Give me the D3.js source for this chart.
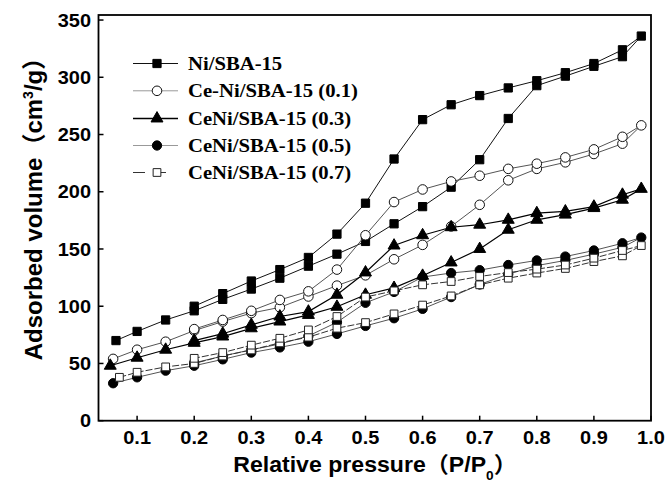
<!DOCTYPE html>
<html><head><meta charset="utf-8">
<script src="https://cdn.jsdelivr.net/npm/d3@7"></script>
<style>body{margin:0;background:#fff}svg{display:block}</style>
</head><body><svg id="c" width="666" height="488"></svg>
<script>
// ---- data ----
const seriesNames = ["Ni/SBA-15","Ce-Ni/SBA-15 (0.1)","CeNi/SBA-15 (0.3)","CeNi/SBA-15 (0.5)","CeNi/SBA-15 (0.7)"];
const startPressure = [0.063, 0.058, 0.053, 0.058, 0.069];
const pAds = [0.1,0.15,0.2,0.25,0.3,0.35,0.4,0.45,0.5,0.55,0.6,0.65,0.7,0.75,0.8,0.85,0.9,0.95,0.983];
const pDes = [0.95,0.9,0.85,0.8,0.75,0.7,0.65,0.6,0.55,0.5,0.45,0.4,0.35,0.3,0.25,0.2];

const niAds  = [70,78,88,96,106,115,124.5,135,145.5,156.6,172,187,204,228,264,292.7,301,309.6,318,336];
const niDes  = [324,312,304,297,290.7,284,276,263,228.6,190,163,142.6,132,122,111,100];
const ce1Ads = [54,62,69,78.7,86.6,94,99,108.5,118,127,141,153.6,169.7,188.6,210,220,225.7,233,242,258];
const ce1Des = [248,237,230,224.5,220,214,209,202,191,162,132,113,105.5,96,88,80];
const ce3Ads = [48,55,62,68,73.5,80.7,86.6,92.4,99.5,110,116,126.6,138.2,150,166.8,175.5,180,185.7,193,202.5];
const ce3Des = [197.4,187,182.8,181.3,175.5,171.2,169,162,153,129.5,110,95.3,91,83.7,76,70];
const ce5Ads = [32.7,37.9,43.7,48,53.6,59.5,64,69,75.8,82.8,89.5,97.7,108,119,128,135.5,140,145.5,151.5,160];
const ce5Des = [155,148.7,143.4,140,136,131.5,129,125.5,112.5,103,86,74,67,62,56.5,50.5];
const ce7Ads = [37.9,42.3,47,50,56.5,61.8,68,73,80.8,85.7,93.3,101,109,118.7,124.5,129,133,139,144,153];
const ce7Des = [148.7,142,136,132.4,129.4,126,121.6,118.7,113.4,108,91,79.3,72,66,59.5,54.5];

const xTicks = [0.1,0.2,0.3,0.4,0.5,0.6,0.7,0.8,0.9,1.0];
const yTicks = [0,50,100,150,200,250,300,350];

// ---- layout ----
const L = 98.5, R = 651, T = 15, B = 420.7;
const x = d3.scaleLinear().domain([0.0324, 1.0]).range([L, R]);
const y = d3.scaleLinear().domain([0, 354.4]).range([B, T]);
const svg = d3.select("#c");
const SX = 1.08;
const sans = "'Liberation Sans', Arial, 'Noto Sans CJK SC', sans-serif";
const serif = "'Liberation Serif', 'Times New Roman', serif";

const styles = [
  {sym: d3.symbolSquare, size: 68, fill: "#000", stroke: "#000", line: "#111", lw: 1, dash: null},
  {sym: d3.symbolCircle, size: 72, fill: "#fff", stroke: "#111", line: "#555", lw: 1, dash: null},
  {sym: d3.symbolTriangle, size: 62, fill: "#000", stroke: "#000", line: "#000", lw: 1.2, dash: null},
  {sym: d3.symbolCircle, size: 68, fill: "#000", stroke: "#000", line: "#555", lw: 1, dash: null},
  {sym: d3.symbolSquare, size: 60, fill: "#fff", stroke: "#222", line: "#333", lw: 1, dash: "7,2"}
];
const adsList = [niAds, ce1Ads, ce3Ads, ce5Ads, ce7Ads];
const desList = [niDes, ce1Des, ce3Des, ce5Des, ce7Des];

const line = d3.line().x(d => x(d[0])).y(d => y(d[1]));
seriesNames.forEach((name, i) => {
  const st = styles[i];
  const pts = [[startPressure[i], adsList[i][0]]]
    .concat(pAds.map((p, j) => [p, adsList[i][j + 1]]))
    .concat(pDes.map((p, j) => [p, desList[i][j]]));
  const g = svg.append("g");
  g.append("path").attr("d", line(pts)).attr("fill", "none")
    .attr("stroke", st.line).attr("stroke-width", st.lw)
    .attr("stroke-dasharray", st.dash);
  g.selectAll("path.m").data(pts).join("path").attr("class", "m")
    .attr("transform", d => `translate(${x(d[0])},${y(d[1])})`)
    .attr("d", d3.symbol().type(st.sym).size(st.size))
    .attr("fill", st.fill).attr("stroke", st.stroke).attr("stroke-width", 1);
});

// frame
svg.append("rect").attr("x", L).attr("y", T).attr("width", R - L).attr("height", B - T)
  .attr("fill", "none").attr("stroke", "#000").attr("stroke-width", 1.8);

// ticks (inward)
svg.selectAll("line.xt").data(xTicks).join("line").attr("class", "xt")
  .attr("x1", d => x(d)).attr("x2", d => x(d)).attr("y1", B).attr("y2", B - 5)
  .attr("stroke", "#000").attr("stroke-width", 1.5);
svg.selectAll("line.yt").data(yTicks).join("line").attr("class", "yt")
  .attr("x1", L).attr("x2", L + 5).attr("y1", d => y(d)).attr("y2", d => y(d))
  .attr("stroke", "#000").attr("stroke-width", 1.5);

// tick labels
svg.selectAll("text.xl").data(xTicks).join("text").attr("class", "xl")
  .attr("transform", d => `translate(${x(d)},444) scale(${SX},1)`)
  .attr("text-anchor", "middle").attr("font-family", sans).attr("font-weight", "bold")
  .attr("font-size", 18.5).text(d => d.toFixed(1));
svg.selectAll("text.yl").data(yTicks).join("text").attr("class", "yl")
  .attr("transform", d => `translate(91,${y(d) + 6.6}) scale(${SX},1)`)
  .attr("text-anchor", "end").attr("font-family", sans).attr("font-weight", "bold")
  .attr("font-size", 18.5).text(d => d);

// axis titles
const xt = svg.append("text").attr("transform", `translate(375,472) scale(1.05,1)`)
  .attr("text-anchor", "middle").attr("font-family", sans).attr("font-weight", "bold")
  .attr("font-size", 22);
xt.append("tspan").text("Relative pressure（P/P");
xt.append("tspan").attr("font-size", 13).attr("dy", 8).text("0");
xt.append("tspan").attr("dy", -8).text("）");

const yt = svg.append("text").attr("transform", `translate(42,203) rotate(-90)`)
  .attr("text-anchor", "middle").attr("font-family", sans).attr("font-weight", "bold")
  .attr("font-size", 24);
yt.append("tspan").text("Adsorbed volume（cm");
yt.append("tspan").attr("font-size", 14).attr("dy", -9).text("3");
yt.append("tspan").attr("dy", 9).text("/g）");

// legend
const legY = [63.5, 90.8, 118.5, 145.5, 172.5];
seriesNames.forEach((name, i) => {
  const st = styles[i];
  const g = svg.append("g").attr("transform", `translate(0,${legY[i]})`);
  g.append("line").attr("x1", 133).attr("x2", 178).attr("y1", 0).attr("y2", 0)
    .attr("stroke", i === 1 || i === 3 ? "#999" : st.line).attr("stroke-width", i === 2 ? 1.6 : 1)
    .attr("stroke-dasharray", i === 4 ? "12,9,12" : null);
  g.append("path").attr("transform", "translate(157,0)")
    .attr("d", d3.symbol().type(st.sym).size(st.size))
    .attr("fill", st.fill).attr("stroke", st.stroke).attr("stroke-width", 1);
  g.append("text").attr("transform", `translate(188,6) scale(1.15,1)`)
    .attr("font-family", serif).attr("font-weight", "bold").attr("font-size", 18)
    .text(name);
});
</script></body></html>
